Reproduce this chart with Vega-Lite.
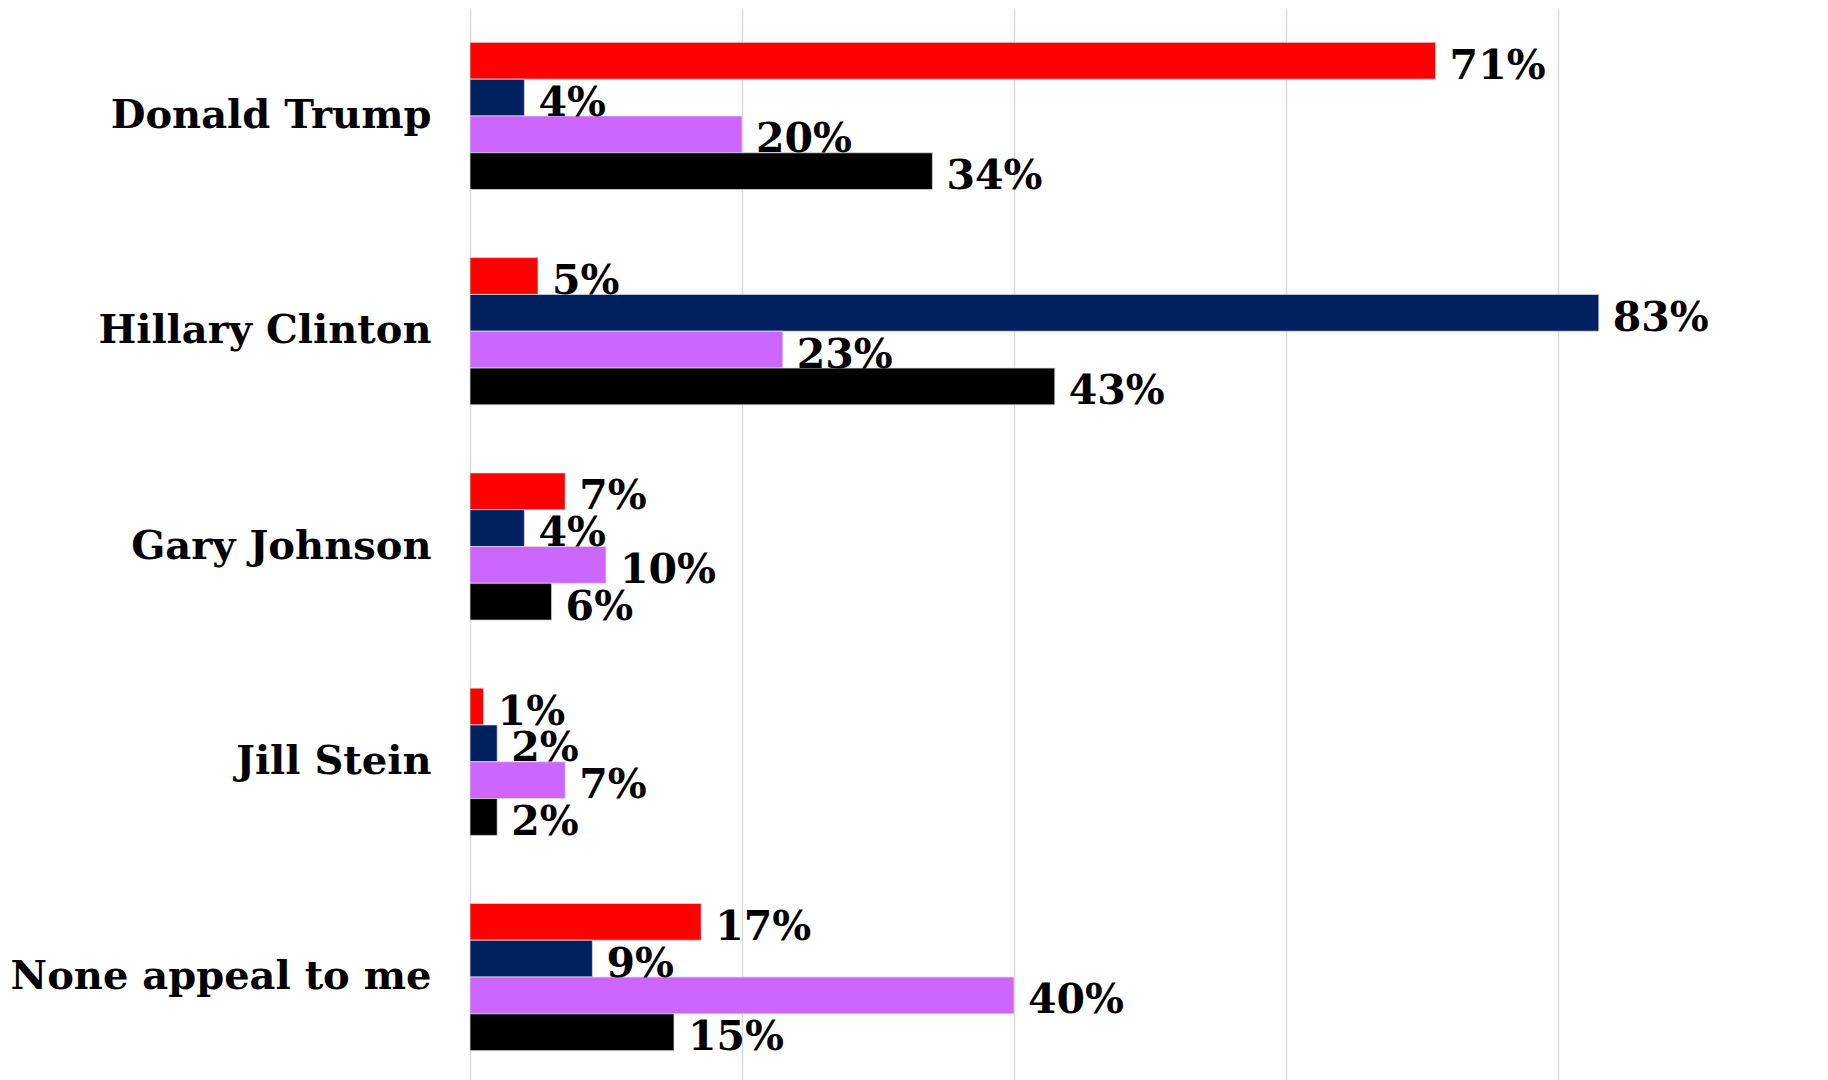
{
  "$schema": "https://vega.github.io/schema/vega-lite/v6.json",
  "autosize": {"type": "none"},
  "width": 1360,
  "height": 1075,
  "padding": {"left": 470, "top": 9, "right": 0, "bottom": 0},
  "background": "white",
  "config": {"view": {"stroke": null}},
  "data": {
    "values": [
      {"candidate": "Donald Trump", "group": "Republicans", "value": 0.71},
      {"candidate": "Donald Trump", "group": "Democrats", "value": 0.04},
      {"candidate": "Donald Trump", "group": "Independents", "value": 0.20},
      {"candidate": "Donald Trump", "group": "All voters", "value": 0.34},
      {"candidate": "Hillary Clinton", "group": "Republicans", "value": 0.05},
      {"candidate": "Hillary Clinton", "group": "Democrats", "value": 0.83},
      {"candidate": "Hillary Clinton", "group": "Independents", "value": 0.23},
      {"candidate": "Hillary Clinton", "group": "All voters", "value": 0.43},
      {"candidate": "Gary Johnson", "group": "Republicans", "value": 0.07},
      {"candidate": "Gary Johnson", "group": "Democrats", "value": 0.04},
      {"candidate": "Gary Johnson", "group": "Independents", "value": 0.10},
      {"candidate": "Gary Johnson", "group": "All voters", "value": 0.06},
      {"candidate": "Jill Stein", "group": "Republicans", "value": 0.01},
      {"candidate": "Jill Stein", "group": "Democrats", "value": 0.02},
      {"candidate": "Jill Stein", "group": "Independents", "value": 0.07},
      {"candidate": "Jill Stein", "group": "All voters", "value": 0.02},
      {"candidate": "None appeal to me", "group": "Republicans", "value": 0.17},
      {"candidate": "None appeal to me", "group": "Democrats", "value": 0.09},
      {"candidate": "None appeal to me", "group": "Independents", "value": 0.40},
      {"candidate": "None appeal to me", "group": "All voters", "value": 0.15}
    ]
  },
  "encoding": {
    "y": {
      "field": "candidate",
      "type": "nominal",
      "sort": null,
      "scale": {"paddingInner": 0.316, "paddingOuter": 0.155},
      "axis": {
        "title": null,
        "ticks": false,
        "domain": false,
        "labelFont": "DejaVu Serif",
        "labelFontWeight": "bold",
        "labelFontSize": 40,
        "labelColor": "#000000",
        "labelPadding": 39,
        "labelLimit": 600,
        "encode": {
          "labels": {
            "enter": {
              "dx": {"signal": "indexof(['Jill Stein', 'None appeal to me'], datum.value) >= 0 ? -12 : 0"}
            },
            "update": {
              "dx": {"signal": "indexof(['Jill Stein', 'None appeal to me'], datum.value) >= 0 ? -12 : 0"}
            }
          }
        }
      }
    },
    "yOffset": {
      "field": "group",
      "type": "nominal",
      "sort": ["Republicans", "Democrats", "Independents", "All voters"],
      "scale": {"paddingInner": 0, "paddingOuter": 0}
    },
    "x": {
      "field": "value",
      "type": "quantitative",
      "scale": {"domain": [0, 1], "nice": false},
      "axis": {
        "title": null,
        "labels": false,
        "ticks": false,
        "domain": false,
        "values": [0, 0.2, 0.4, 0.6, 0.8, 1.0],
        "grid": true,
        "gridColor": "#d9d9d9",
        "gridWidth": 1.5
      }
    }
  },
  "layer": [
    {
      "mark": {"type": "bar", "stroke": "#dddddd", "strokeWidth": 0.75},
      "encoding": {
        "color": {
          "field": "group",
          "type": "nominal",
          "scale": {
            "domain": ["Republicans", "Democrats", "Independents", "All voters"],
            "range": ["#ff0000", "#002060", "#cc66ff", "#000000"]
          },
          "legend": null
        }
      }
    },
    {
      "mark": {
        "type": "text",
        "align": "left",
        "baseline": "middle",
        "dx": 14,
        "dy": 6,
        "font": "DejaVu Serif",
        "fontWeight": "bold",
        "fontSize": 41,
        "color": "#000000"
      },
      "encoding": {
        "text": {"field": "value", "type": "quantitative", "format": ".0%"}
      }
    }
  ]
}
